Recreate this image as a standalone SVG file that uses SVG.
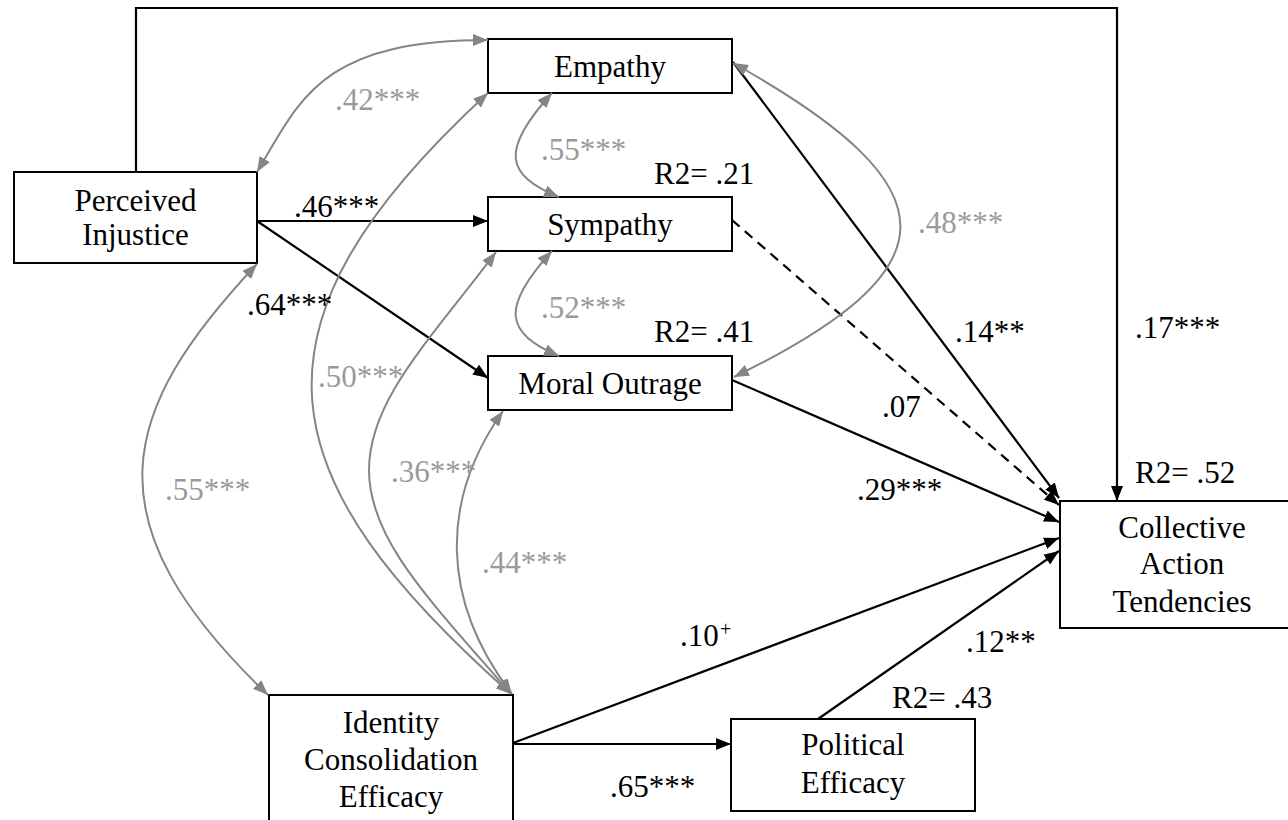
<svg xmlns="http://www.w3.org/2000/svg" width="1288" height="820" viewBox="0 0 1288 820">
<style>
text{font-family:"Liberation Serif","Times New Roman",serif;font-size:31px;fill:#000}
.c{text-anchor:middle}
.g{fill:#9a9a9a}
.box{fill:#fff;stroke:#000;stroke-width:2}
.ln{fill:none;stroke:#000;stroke-width:2.2}
.dash{stroke-dasharray:10 7}
.gc{fill:none;stroke:#858585;stroke-width:2}
</style>
<defs>
<marker id="ab" viewBox="0 0 15 12" refX="15" refY="6" markerWidth="15" markerHeight="12" markerUnits="userSpaceOnUse" orient="auto">
<path d="M0,0 L15,6 L0,12 z" fill="#000"/>
</marker>
<marker id="ag" viewBox="0 0 15 12" refX="15" refY="6" markerWidth="15" markerHeight="12" markerUnits="userSpaceOnUse" orient="auto-start-reverse">
<path d="M0,0 L15,6 L0,12 z" fill="#858585"/>
</marker>
</defs>

<g id="perceived-injustice">
<rect class="box" x="14" y="172" width="243" height="91"/>
<text class="c" x="135.5" y="211">Perceived</text>
<text class="c" x="135.5" y="245">Injustice</text>
</g>
<g id="empathy">
<rect class="box" x="488" y="39" width="244" height="54"/>
<text class="c" x="610" y="77">Empathy</text>
</g>
<g id="sympathy">
<rect class="box" x="488" y="197" width="244" height="54"/>
<text class="c" x="610" y="235">Sympathy</text>
</g>
<g id="moral-outrage">
<rect class="box" x="488" y="356" width="244" height="54"/>
<text class="c" x="610" y="394">Moral Outrage</text>
</g>
<g id="identity-consolidation-efficacy">
<rect class="box" x="269" y="695" width="244" height="140"/>
<text class="c" x="391" y="733">Identity</text>
<text class="c" x="391" y="770">Consolidation</text>
<text class="c" x="391" y="807">Efficacy</text>
</g>
<g id="political-efficacy">
<rect class="box" x="731" y="719" width="244" height="92"/>
<text class="c" x="853" y="755">Political</text>
<text class="c" x="853" y="793">Efficacy</text>
</g>
<g id="collective-action-tendencies">
<rect class="box" x="1060" y="501" width="244" height="127"/>
<text class="c" x="1182" y="538">Collective</text>
<text class="c" x="1182" y="574">Action</text>
<text class="c" x="1182" y="612">Tendencies</text>
</g>

<g id="connectors">
<path class="ln" d="M136,172 V8 H1117 V501" marker-end="url(#ab)"/>
<path class="ln" d="M257,221 H488" marker-end="url(#ab)"/>
<path class="ln" d="M257,221 L488,378" marker-end="url(#ab)"/>
<path class="ln" d="M733,62 L1059,498" marker-end="url(#ab)"/>
<path class="ln dash" d="M732,220 L1059,505" marker-end="url(#ab)"/>
<path class="ln" d="M732,380 L1059,522" marker-end="url(#ab)"/>
<path class="ln" d="M513,743 L1059,538" marker-end="url(#ab)"/>
<path class="ln" d="M513,744 H731" marker-end="url(#ab)"/>
<path class="ln" d="M818,719 L1059,551" marker-end="url(#ab)"/>

<path class="gc" d="M257,172 C300,100 320,40 488,40" marker-start="url(#ag)" marker-end="url(#ag)"/>
<path class="gc" d="M552,93 C500,150 505,175 559,197" marker-start="url(#ag)" marker-end="url(#ag)"/>
<path class="gc" d="M552,251 C500,308 505,333 559,356" marker-start="url(#ag)" marker-end="url(#ag)"/>
<path class="gc" d="M733,63 C960,190 952,270 734,377" marker-start="url(#ag)" marker-end="url(#ag)"/>
<path class="gc" d="M257,264 C120,410 85,520 268,695" marker-start="url(#ag)" marker-end="url(#ag)"/>
<path class="gc" d="M511,694 C270,480 230,330 488,93" marker-start="url(#ag)" marker-end="url(#ag)"/>
<path class="gc" d="M511,694 C430,600 369,540 369,470 C369,400 430,340 496,252" marker-start="url(#ag)" marker-end="url(#ag)"/>
<path class="gc" d="M512,694 C440,600 440,500 503,411" marker-start="url(#ag)" marker-end="url(#ag)"/>
</g>

<g id="labels">
<text x="294" y="217">.46***</text>
<text x="247" y="315">.64***</text>
<text x="955" y="342">.14**</text>
<text x="1135" y="338">.17***</text>
<text x="882" y="417">.07</text>
<text x="857" y="500">.29***</text>
<text x="680" y="646">.10</text>
<text x="720" y="636" style="font-size:20px">+</text>
<text x="966" y="652">.12**</text>
<text x="610" y="797">.65***</text>
<text x="654" y="184">R2= .21</text>
<text x="654" y="342">R2= .41</text>
<text x="1135" y="483">R2= .52</text>
<text x="892" y="708">R2= .43</text>
<text class="g" x="335" y="110">.42***</text>
<text class="g" x="541" y="160">.55***</text>
<text class="g" x="541" y="318">.52***</text>
<text class="g" x="918" y="233">.48***</text>
<text class="g" x="318" y="387">.50***</text>
<text class="g" x="165" y="500">.55***</text>
<text class="g" x="391" y="482">.36***</text>
<text class="g" x="482" y="573">.44***</text>
</g>
</svg>
